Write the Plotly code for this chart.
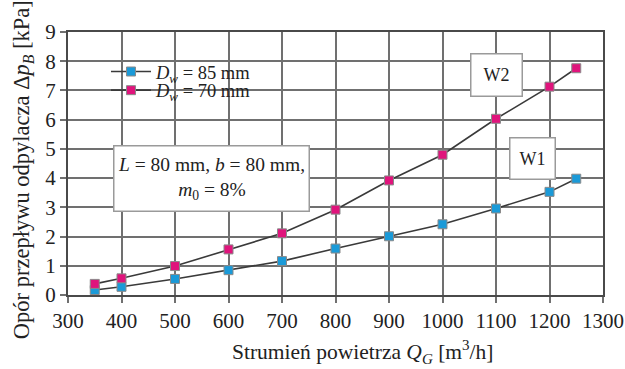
import plotly.graph_objects as go

Q = [350, 400, 500, 600, 700, 800, 900, 1000, 1100, 1200, 1250]
W1 = [0.17, 0.28, 0.55, 0.85, 1.16, 1.59, 2.01, 2.42, 2.96, 3.53, 3.98]
W2 = [0.38, 0.57, 0.99, 1.56, 2.11, 2.92, 3.92, 4.80, 6.03, 7.13, 7.76]
names = ["<i>D<sub>w</sub></i> = 85 mm", "<i>D<sub>w</sub></i> = 70 mm"]
colors = ["#1b9ad8", "#e0147c"]
xticks = list(range(300, 1301, 100))
yticks = list(range(0, 10))
x_title = "Strumień powietrza <i>Q<sub>G</sub></i> [m<sup>3</sup>/h]"
y_title = "Opór przepływu odpylacza Δ<i>p<sub>B</sub></i> [kPa]"

FONT = "Liberation Serif"

fig = go.Figure()
for i, (y, n, c) in enumerate(zip([W1, W2], names, colors)):
    fig.add_trace(go.Scatter(
        x=Q, y=y, name=n, mode="lines+markers",
        legend="legend" if i == 0 else "legend2",
        line=dict(color="#3a3a3a", width=1.6),
        marker=dict(symbol="square", size=9, color=c, line=dict(color="#8a8a8a", width=1)),
    ))

box = dict(bgcolor="white", bordercolor="#9a9a9a", borderwidth=1.5, showarrow=False,
           font=dict(family=FONT, size=19.5, color="#222"))
fig.add_annotation(x=569, y=4.0, xref="x", yref="y",
                   text="<i>L</i> = 80 mm, <i>b</i> = 80 mm,<br><i>m</i><sub>0</sub> = 8%",
                   width=186, height=56, borderpad=4, **box)
box["font"] = dict(family=FONT, size=18, color="#222")
fig.add_annotation(x=1100, y=7.54, xref="x", yref="y", text="W2",
                   width=44, height=35, borderpad=3, **box)
fig.add_annotation(x=1169, y=4.68, xref="x", yref="y", text="W1",
                   width=38, height=34, borderpad=3, **box)

# axis titles (placed as in the reference, slightly off-centre)
fig.add_annotation(x=0.55, y=-0.216, xref="paper", yref="paper", text=x_title,
                   showarrow=False, xanchor="center", yanchor="middle",
                   font=dict(family=FONT, size=21.5, color="#222"))
fig.add_annotation(x=-0.084, y=0.475, xref="paper", yref="paper", text=y_title,
                   showarrow=False, xanchor="center", yanchor="middle", textangle=-90,
                   font=dict(family=FONT, size=22.5, color="#222"))

# white patch behind the legend (hides grid lines like the reference)
fig.add_shape(type="rect", xref="paper", yref="paper",
              x0=0.037, x1=0.383, y0=0.735, y1=0.902,
              fillcolor="white", line=dict(width=0), layer="between")

axis_common = dict(showgrid=True, gridcolor="#707070", gridwidth=1.6,
                   showline=True, linecolor="#4a4a4a", linewidth=2, mirror=True,
                   ticks="outside", ticklen=6, tickcolor="#707070", tickwidth=1.6,
                   zeroline=False, automargin=False,
                   tickfont=dict(family=FONT, size=21, color="#222"))

leg = dict(xanchor="left", yanchor="middle", bgcolor="rgba(0,0,0,0)",
           font=dict(family=FONT, size=18.5, color="#222"), itemwidth=40)

fig.update_layout(
    width=625, height=369,
    margin=dict(l=68, r=22, t=32, b=74),
    paper_bgcolor="white", plot_bgcolor="white",
    font=dict(family=FONT, color="#222"),
    xaxis=dict(range=[300, 1300], tickvals=xticks, **axis_common),
    yaxis=dict(range=[0, 9], tickvals=yticks, **axis_common),
    legend=dict(x=0.071, y=0.848, **leg),
    legend2=dict(x=0.071, y=0.777, **leg),
    showlegend=True,
)

fig.write_html("out.html", config={"displayModeBar": False},
               post_script="document.body.style.margin='0';")
